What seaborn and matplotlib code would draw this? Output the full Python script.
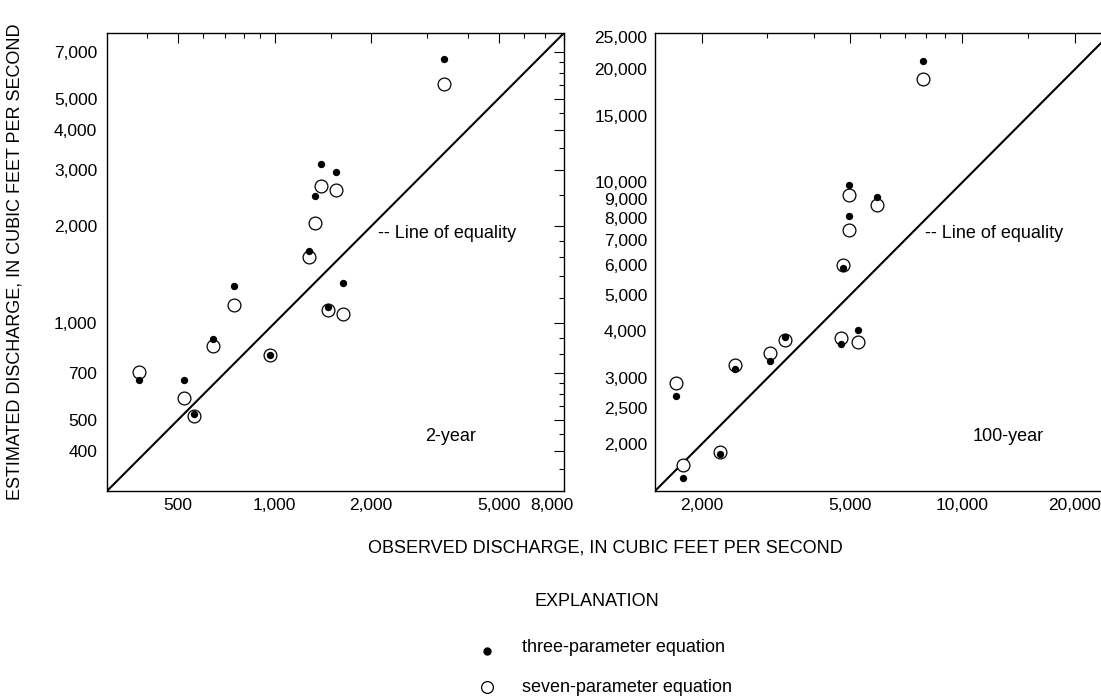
import numpy as np
import pandas as pd
import matplotlib
matplotlib.use("Agg")
import matplotlib.pyplot as plt
import matplotlib.transforms as mtrans
import seaborn as sns
from matplotlib.ticker import FixedLocator, FuncFormatter, NullFormatter
from matplotlib.lines import Line2D

# ---------------- data ----------------
# 2-year panel
obs_2yr = [3372, 1399, 1558, 1341, 1281, 1635, 746, 1467, 643, 971, 377, 521, 560]
three_2yr = [6640, 3130, 2960, 2495, 1674, 1334, 1305, 1125, 890, 794, 665, 663, 520]
seven_2yr = [5560, 2680, 2587, 2051, 1604, 1067, 1137, 1097, 847, 794, 706, 583, 514]

# 100-year panel
obs_100yr = [7860, 4960, 5907, 4960, 4794, 5235, 4715, 3347, 3045, 2454, 1710, 2238, 1779]
three_100yr = [21090, 9820, 9112, 8120, 5893, 4035, 3708, 3864, 3339, 3165, 2686, 1884, 1622]
seven_100yr = [18810, 9240, 8710, 7470, 6006, 3753, 3848, 3793, 3501, 3258, 2917, 1911, 1764]

range_2yr = [300, 8000]
range_100yr = [1500, 25000]

xmajor_2yr = [500, 1000, 2000, 5000, 8000]
xminor_2yr = [400, 600, 700, 800, 900, 1500, 3000, 4000, 6000, 7000]
ymajor_2yr = [400, 500, 700, 1000, 2000, 3000, 4000, 5000, 7000]
yminor_2yr = [350, 450, 550, 600, 650, 800, 900, 1200, 1400, 1600, 1800,
              2500, 3500, 4500, 5500, 6000, 6500]

xmajor_100yr = [2000, 5000, 10000, 20000]
xminor_100yr = [3000, 4000, 6000, 7000, 8000, 9000, 15000]
ymajor_100yr = [2000, 2500, 3000, 4000, 5000, 6000, 7000, 8000, 9000,
                10000, 15000, 20000, 25000]
yminor_100yr = ([1600, 1700, 1800, 1900, 2100, 2200, 2300, 2400, 2600, 2700,
                 2800, 2900, 3200, 3400, 3600, 3800, 4200, 4400, 4600, 4800,
                 5500, 6500, 7500, 8500, 9500, 11000, 12000, 13000, 14000,
                 16000, 17000, 18000, 19000, 21000, 22000, 23000, 24000])

panel_labels = ["2-year", "100-year"]
legend_labels = ["three-parameter equation", "seven-parameter equation"]

# ---------------- style ----------------
sns.set_theme(style="white")
plt.rcParams["font.family"] = ["Liberation Sans", "DejaVu Sans"]
for key in ["text.color", "axes.labelcolor", "xtick.color", "ytick.color",
            "axes.edgecolor"]:
    plt.rcParams[key] = "black"
plt.rcParams["axes.linewidth"] = 1.0

TICK_FS = 12.5
TXT_FS = 13

W, H = 1101, 696
fig = plt.figure(figsize=(W / 100, H / 100), dpi=100)

def px_axes(x0, y0, x1, y1):
    return fig.add_axes([x0 / W, 1 - y1 / H, (x1 - x0) / W, (y1 - y0) / H])

ax1 = px_axes(107, 33, 564, 491)
ax2 = px_axes(655, 33, 1111, 491)

comma = FuncFormatter(lambda v, p: f"{int(round(v)):,}")

def draw(ax, obs, three, seven, rng, xmaj, xmin, ymaj, ymin, label, ypad):
    df = pd.DataFrame({"obs": obs, "three": three, "seven": seven})
    sns.lineplot(x=rng, y=rng, ax=ax, color="black", linewidth=1.5)
    sns.scatterplot(data=df, x="obs", y="seven", ax=ax, marker="o", s=85,
                    facecolor="white", edgecolor="black", linewidth=0.9, zorder=3)
    sns.scatterplot(data=df, x="obs", y="three", ax=ax, marker="o", s=28,
                    color="black", edgecolor="black", linewidth=0, zorder=4)
    ax.set_xscale("log")
    ax.set_yscale("log")
    ax.set_xlim(rng)
    ax.set_ylim(rng)
    ax.xaxis.set_major_locator(FixedLocator(xmaj))
    ax.xaxis.set_minor_locator(FixedLocator(xmin))
    ax.yaxis.set_major_locator(FixedLocator(ymaj))
    ax.yaxis.set_minor_locator(FixedLocator(ymin))
    ax.xaxis.set_major_formatter(comma)
    ax.yaxis.set_major_formatter(comma)
    ax.xaxis.set_minor_formatter(NullFormatter())
    ax.yaxis.set_minor_formatter(NullFormatter())
    ax.tick_params(which="both", direction="in", top=True, right=True,
                   colors="black", width=0.8, labelsize=TICK_FS)
    ax.tick_params(which="major", length=7.5)
    ax.tick_params(which="minor", length=3.8)
    ax.tick_params(axis="x", which="major", pad=5)
    ax.tick_params(axis="y", which="major", pad=ypad)
    ax.set_xlabel("")
    ax.set_ylabel("")
    for s in ax.spines.values():
        s.set_color("black")
        s.set_linewidth(1.0)
    ax.text(0.593, 0.563, "-- Line of equality", transform=ax.transAxes,
            fontsize=TXT_FS, va="center", ha="left", color="black")
    ax.text(0.696, 0.118, label, transform=ax.transAxes,
            fontsize=TXT_FS, va="center", ha="left", color="black")
    ax.set_facecolor("white")

draw(ax1, obs_2yr, three_2yr, seven_2yr, range_2yr, xmajor_2yr, xminor_2yr,
     ymajor_2yr, yminor_2yr, panel_labels[0], 7)
draw(ax2, obs_100yr, three_100yr, seven_100yr, range_100yr, xmajor_100yr,
     xminor_100yr, ymajor_100yr, yminor_100yr, panel_labels[1], 5.5)

# shift edge tick labels slightly inward, as in the reference
def shift_label(axis, idx, dx_px, dy_px):
    tick = axis.get_major_ticks()[idx]
    off = mtrans.ScaledTranslation(dx_px / 100, dy_px / 100, fig.dpi_scale_trans)
    tick.label1.set_transform(tick.label1.get_transform() + off)

shift_label(ax1.xaxis, len(xmajor_2yr) - 1, -12, 0)
shift_label(ax2.yaxis, len(ymajor_100yr) - 1, 0, -4)

fig.text(15 / W, 1 - 262 / H, "ESTIMATED DISCHARGE, IN CUBIC FEET PER SECOND",
         rotation=90, ha="center", va="center", fontsize=TXT_FS)
fig.text(605 / W, 1 - 548 / H, "OBSERVED DISCHARGE, IN CUBIC FEET PER SECOND",
         ha="center", va="center", fontsize=TXT_FS)
fig.text(597 / W, 1 - 602 / H, "EXPLANATION", ha="center", va="center", fontsize=TXT_FS)

fig.add_artist(Line2D([487 / W], [1 - 651 / H], transform=fig.transFigure,
                      marker="o", markersize=5, color="black", linestyle="none"))
fig.add_artist(Line2D([487 / W], [1 - 687 / H], transform=fig.transFigure,
                      marker="o", markersize=8.5, markerfacecolor="white",
                      markeredgecolor="black", markeredgewidth=0.9, linestyle="none"))
fig.text(522 / W, 1 - 648 / H, legend_labels[0], ha="left", va="center", fontsize=TXT_FS)
fig.text(522 / W, 1 - 687 / H, legend_labels[1], ha="left", va="center", fontsize=TXT_FS)

fig.savefig("out.png", dpi=100, facecolor="white")
